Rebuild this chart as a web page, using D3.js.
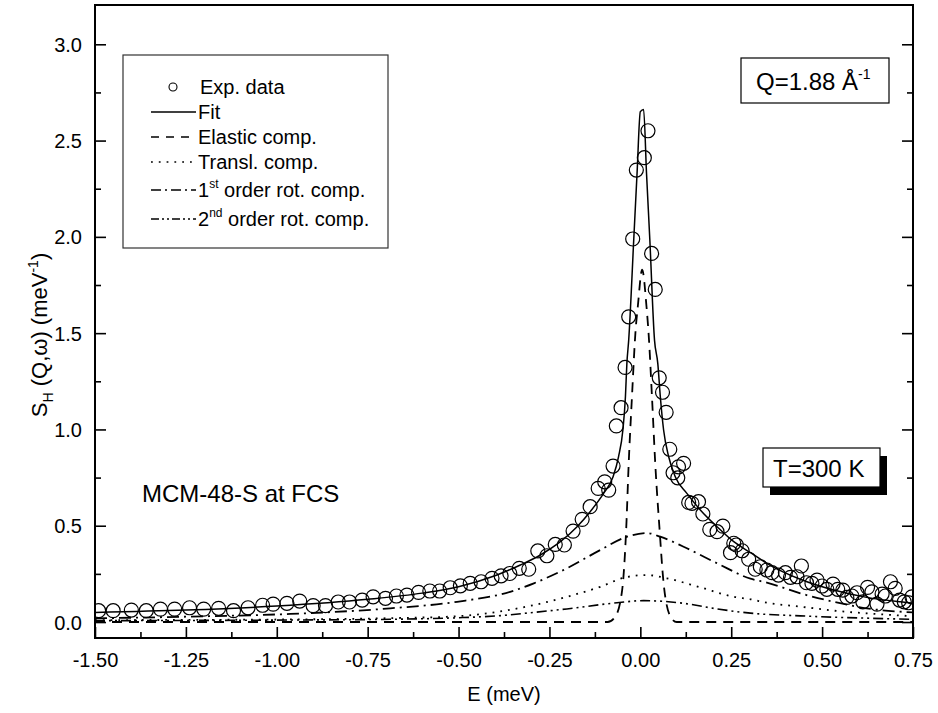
<!DOCTYPE html>
<html>
<head>
<meta charset="utf-8">
<script src="https://cdn.jsdelivr.net/npm/d3@7"></script>
<style>
  body { margin: 0; background: #fff; }
  svg { display: block; font-family: "Liberation Sans", Arial, sans-serif; }
</style>
</head>
<body>
<div class="container"></div>
<script>
// experimental points: E (meV), S
var expE = [-1.490,-1.450,-1.400,-1.359,-1.320,-1.281,-1.240,-1.201,-1.160,-1.119,-1.079,-1.039,-1.010,-0.972,-0.937,-0.900,-0.866,-0.831,-0.800,-0.765,-0.735,-0.701,-0.671,-0.642,-0.610,-0.579,-0.552,-0.523,-0.495,-0.468,-0.438,-0.408,-0.383,-0.359,-0.333,-0.307,-0.282,-0.257,-0.234,-0.209,-0.185,-0.160,-0.138,-0.116,-0.098,-0.087,-0.075,-0.066,-0.053,-0.042,-0.032,-0.021,-0.011,0.011,0.021,0.031,0.041,0.052,0.061,0.071,0.081,0.090,0.103,0.105,0.119,0.133,0.142,0.160,0.172,0.191,0.211,0.227,0.248,0.257,0.264,0.280,0.298,0.316,0.330,0.348,0.362,0.380,0.399,0.413,0.431,0.443,0.457,0.472,0.486,0.500,0.513,0.530,0.543,0.557,0.568,0.582,0.596,0.612,0.625,0.637,0.651,0.665,0.674,0.688,0.701,0.713,0.726,0.738,0.747];
var expS = [0.059,0.059,0.062,0.059,0.067,0.067,0.074,0.067,0.071,0.059,0.074,0.087,0.093,0.097,0.109,0.085,0.085,0.104,0.104,0.114,0.131,0.123,0.135,0.140,0.154,0.161,0.161,0.178,0.188,0.201,0.209,0.227,0.240,0.252,0.279,0.274,0.369,0.344,0.403,0.400,0.472,0.533,0.599,0.694,0.728,0.685,0.810,1.018,1.113,1.322,1.585,1.989,2.347,2.411,2.551,1.914,1.727,1.268,1.193,1.089,0.897,0.775,0.749,0.806,0.824,0.621,0.616,0.625,0.561,0.481,0.469,0.498,0.360,0.409,0.400,0.370,0.326,0.274,0.287,0.270,0.256,0.244,0.256,0.232,0.235,0.291,0.204,0.201,0.218,0.187,0.170,0.197,0.170,0.166,0.128,0.135,0.152,0.105,0.180,0.157,0.093,0.145,0.135,0.209,0.175,0.114,0.105,0.100,0.131];

// fit
var fitE = [-1.500,-1.250,-1.000,-0.750,-0.600,-0.500,-0.400,-0.330,-0.275,-0.220,-0.174,-0.138,-0.101,-0.075,-0.060,-0.048,-0.041,-0.037,-0.032,-0.018,-0.009,0.000,0.009,0.017,0.026,0.039,0.048,0.055,0.064,0.078,0.096,0.128,0.165,0.211,0.257,0.303,0.348,0.440,0.532,0.623,0.715,0.750];
var fitS = [0.050,0.062,0.083,0.118,0.150,0.183,0.240,0.296,0.348,0.417,0.495,0.573,0.668,0.754,0.858,0.997,1.170,1.343,1.464,1.990,2.330,2.650,2.662,2.330,1.990,1.464,1.343,1.170,0.997,0.858,0.754,0.668,0.582,0.495,0.417,0.360,0.305,0.222,0.166,0.128,0.105,0.098];

// elastic component
var elE = [-1.500,-0.090,-0.069,-0.050,-0.039,-0.032,-0.023,-0.013,-0.007,0.005,0.017,0.023,0.032,0.041,0.053,0.064,0.083,0.100,0.750];
var elS = [0.000,0.000,0.028,0.166,0.478,0.824,1.170,1.516,1.637,1.830,1.637,1.490,1.170,0.824,0.478,0.201,0.028,0.000,0.000];

// translational component
var trE = [-1.500,-1.000,-0.688,-0.504,-0.385,-0.293,-0.202,-0.110,-0.041,0.018,0.073,0.165,0.257,0.303,0.348,0.440,0.532,0.623,0.750];
var trS = [0.010,0.013,0.020,0.030,0.055,0.088,0.131,0.183,0.232,0.244,0.227,0.180,0.131,0.118,0.100,0.080,0.059,0.045,0.030];

// 1st order rotational component
var r1E = [-1.500,-1.238,-0.963,-0.688,-0.504,-0.358,-0.293,-0.202,-0.110,-0.041,0.018,0.055,0.119,0.211,0.303,0.348,0.440,0.532,0.623,0.750];
var r1S = [0.019,0.028,0.042,0.071,0.105,0.157,0.201,0.279,0.374,0.440,0.462,0.443,0.391,0.305,0.225,0.205,0.149,0.105,0.071,0.050];

// 2nd order rotational component
var r2E = [-1.500,-1.000,-0.688,-0.504,-0.385,-0.293,-0.202,-0.064,0.009,0.119,0.211,0.303,0.440,0.532,0.623,0.750];
var r2S = [0.007,0.010,0.014,0.022,0.033,0.050,0.068,0.100,0.111,0.097,0.068,0.046,0.032,0.025,0.020,0.014];

var xTicks = [-1.50,-1.25,-1.00,-0.75,-0.50,-0.25,0.00,0.25,0.50,0.75];
var yTicks = [0.0,0.5,1.0,1.5,2.0,2.5,3.0];

var width = 938, height = 713;
var mLeft = 95, mRight = 913, mTop = 5, mBottom = 638;
var majorLen = 11, minorLen = 6;

var x = d3.scaleLinear().domain([-1.5, 0.75]).range([mLeft, mRight]);
var y = d3.scaleLinear().domain([-0.083, 3.204]).range([mBottom, mTop]);

var fmtX = d => d3.format(".2f")(d).replace("−", "-");
var fmtY = d => d3.format(".1f")(d).replace("−", "-");

var svg = d3.select(".container").append("svg")
            .attr("width", width)
            .attr("height", height);

svg.append("defs").append("clipPath").attr("id", "clip")
   .append("rect")
   .attr("x", mLeft).attr("y", mTop)
   .attr("width", mRight - mLeft).attr("height", mBottom - mTop);

var plot = svg.append("g").attr("clip-path", "url(#clip)");

var line = d3.line()
             .x(d => x(d[0]))
             .y(d => y(d[1]))
             .curve(d3.curveMonotoneX);

var series = [
  { e: r2E, s: r2S, dash: "10,4,2,4,2,4", w: 1.6 },
  { e: r1E, s: r1S, dash: "12,5,2,5", w: 1.8 },
  { e: trE, s: trS, dash: "1.8,6", w: 1.8 },
  { e: elE, s: elS, dash: "10,7", w: 1.8 },
  { e: fitE, s: fitS, dash: null, w: 1.5 }
];

series.forEach(function(sr) {
  plot.append("path")
      .datum(d3.zip(sr.e, sr.s))
      .attr("d", line)
      .attr("fill", "none")
      .attr("stroke", "#000")
      .attr("stroke-width", sr.w)
      .attr("stroke-dasharray", sr.dash);
});

plot.selectAll("circle.pt")
    .data(d3.zip(expE, expS))
    .enter().append("circle")
    .attr("class", "pt")
    .attr("cx", d => x(d[0]))
    .attr("cy", d => y(d[1]))
    .attr("r", 7)
    .attr("fill", "none")
    .attr("stroke", "#000")
    .attr("stroke-width", 1.2);

// axes: ticks inward
var xAxis = svg.append("g").attr("transform", `translate(0,${mBottom})`)
               .call(d3.axisBottom(x).tickValues(xTicks).tickSizeInner(-majorLen)
                       .tickSizeOuter(0).tickFormat(fmtX));
var xMinor = svg.append("g").attr("transform", `translate(0,${mBottom})`)
               .call(d3.axisBottom(x).tickValues(d3.range(-1.375, 0.75, 0.25))
                       .tickSizeInner(-minorLen).tickSizeOuter(0).tickFormat(""));

var yAxis = svg.append("g").attr("transform", `translate(${mLeft},0)`)
               .call(d3.axisLeft(y).tickValues(yTicks).tickSizeInner(-majorLen)
                       .tickSizeOuter(0).tickFormat(fmtY));
var yMinor = svg.append("g").attr("transform", `translate(${mLeft},0)`)
               .call(d3.axisLeft(y).tickValues(d3.range(0.25, 3.2, 0.5))
                       .tickSizeInner(-minorLen).tickSizeOuter(0).tickFormat(""));
var yRight = svg.append("g").attr("transform", `translate(${mRight},0)`)
               .call(d3.axisRight(y).tickValues(yTicks).tickSizeInner(-majorLen)
                       .tickSizeOuter(0).tickFormat(""));
var yRightMinor = svg.append("g").attr("transform", `translate(${mRight},0)`)
               .call(d3.axisRight(y).tickValues(d3.range(0.25, 3.2, 0.5))
                       .tickSizeInner(-minorLen).tickSizeOuter(0).tickFormat(""));

svg.selectAll(".domain").remove();
svg.selectAll(".tick line").attr("stroke", "#000").attr("stroke-width", 1.6);

xAxis.selectAll("text").attr("font-size", 20).attr("fill", "#000")
     .attr("font-family", "Liberation Sans, Arial, sans-serif")
     .attr("y", 0).attr("dy", "1.45em");
yAxis.selectAll("text").attr("font-size", 20).attr("fill", "#000")
     .attr("font-family", "Liberation Sans, Arial, sans-serif")
     .attr("x", -13).attr("dy", "0.35em");

// frame
svg.append("rect")
   .attr("x", mLeft).attr("y", mTop)
   .attr("width", mRight - mLeft).attr("height", mBottom - mTop)
   .attr("fill", "none").attr("stroke", "#000").attr("stroke-width", 2);

// axis titles
svg.append("text")
   .attr("x", (mLeft + mRight) / 2).attr("y", 701)
   .attr("text-anchor", "middle").attr("font-size", 20)
   .text("E (meV)");

var yt = svg.append("text")
   .attr("transform", "translate(47,335) rotate(-90)")
   .attr("text-anchor", "middle").attr("font-size", 22);
yt.append("tspan").text("S");
yt.append("tspan").attr("font-size", 14).attr("dy", 6).text("H");
yt.append("tspan").attr("dy", -6).text(" (Q,ω) (meV");
yt.append("tspan").attr("font-size", 14).attr("dy", -9).text("-1");
yt.append("tspan").attr("dy", 9).text(")");

// legend
var legend = svg.append("g");
legend.append("rect")
      .attr("x", 123).attr("y", 55).attr("width", 265).attr("height", 193)
      .attr("fill", "#fff").attr("stroke", "#333").attr("stroke-width", 1.2);

var legItems = [
  { y: 87,  dash: "circle", label: ["Exp. data"] },
  { y: 112, dash: null, label: ["Fit"] },
  { y: 137, dash: "8,7", label: ["Elastic comp."] },
  { y: 162, dash: "1.8,6", label: ["Transl. comp."] },
  { y: 190, dash: "10,4,2,4", label: ["1", "st", " order rot. comp."] },
  { y: 219, dash: "8,3,2,3,2,3", label: ["2", "nd", " order rot. comp."] }
];

legItems.forEach(function(it) {
  if (it.dash === "circle") {
    legend.append("circle").attr("cx", 173).attr("cy", it.y).attr("r", 4)
          .attr("fill", "none").attr("stroke", "#000").attr("stroke-width", 1.1);
  } else {
    legend.append("line")
          .attr("x1", 151).attr("x2", 196).attr("y1", it.y).attr("y2", it.y)
          .attr("stroke", "#000").attr("stroke-width", 1.6)
          .attr("stroke-dasharray", it.dash);
  }
  var t = legend.append("text")
                .attr("x", it.dash === "circle" ? 200 : 198).attr("y", it.y + 7)
                .attr("font-size", 20);
  t.append("tspan").text(it.label[0]);
  if (it.label.length > 1) {
    t.append("tspan").attr("font-size", 12).attr("dy", -9).text(it.label[1]);
    t.append("tspan").attr("dy", 9).text(it.label[2]);
  }
});

// Q box
svg.append("rect")
   .attr("x", 741).attr("y", 58).attr("width", 148).attr("height", 45)
   .attr("fill", "#fff").attr("stroke", "#000").attr("stroke-width", 1.2);
var q = svg.append("text").attr("x", 756).attr("y", 90).attr("font-size", 24);
q.append("tspan").text("Q=1.88 Å");
q.append("tspan").attr("font-size", 14).attr("dy", -11).text("-1");

// T box with shadow
svg.append("rect")
   .attr("x", 770).attr("y", 456).attr("width", 117).attr("height", 39)
   .attr("fill", "#000");
svg.append("rect")
   .attr("x", 763).attr("y", 448).attr("width", 117).attr("height", 39)
   .attr("fill", "#fff").attr("stroke", "#000").attr("stroke-width", 1.2);
svg.append("text").attr("x", 773).attr("y", 477).attr("font-size", 24)
   .text("T=300 K");

svg.append("text").attr("x", 142).attr("y", 502).attr("font-size", 24)
   .text("MCM-48-S at FCS");
</script>
</body>
</html>
